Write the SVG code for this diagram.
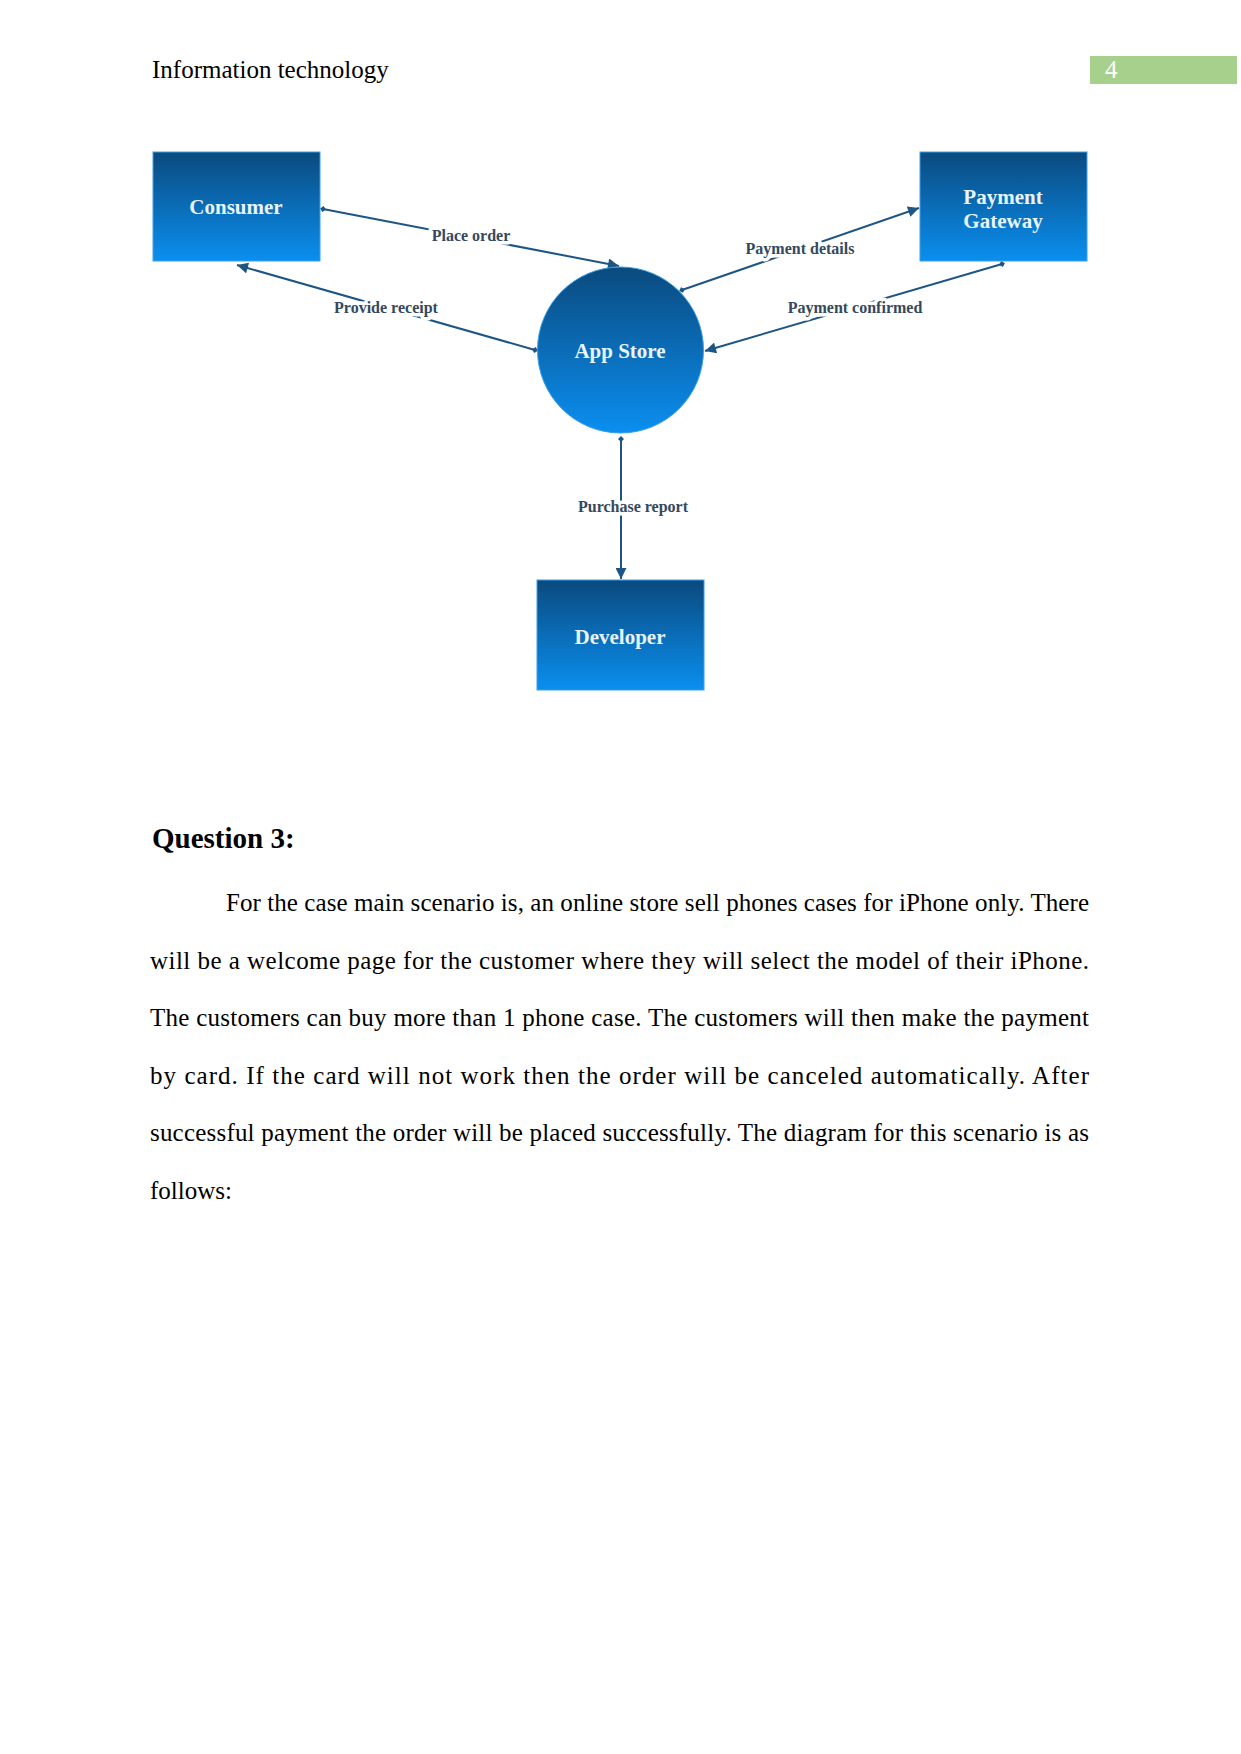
<svg xmlns="http://www.w3.org/2000/svg" width="1241" height="1754" viewBox="0 0 1241 1754">
<defs>
<linearGradient id="g" x1="0" y1="0" x2="0" y2="1">
<stop offset="0" stop-color="#0a4a7e"/>
<stop offset="1" stop-color="#0a8ff0"/>
</linearGradient>
<marker id="arr" viewBox="0 0 10 10" refX="10" refY="5" markerWidth="12" markerHeight="11" markerUnits="userSpaceOnUse" orient="auto">
<path d="M0,0 L10,5 L0,10 Z" fill="#1d5585"/>
</marker>
<marker id="dia" viewBox="0 0 8 8" refX="4" refY="4" markerWidth="6" markerHeight="6" markerUnits="userSpaceOnUse" orient="auto">
<path d="M0,4 L4,0 L8,4 L4,8 Z" fill="#1d5585"/>
</marker>
</defs>
<style>
.box{fill:url(#g);stroke:#3aa0e8;stroke-width:1}
.nt{font-family:"Liberation Serif",serif;font-weight:bold;font-size:21px;fill:#e8f4fc;text-anchor:middle}
.ln{stroke:#1d5585;stroke-width:2;fill:none;marker-end:url(#arr);marker-start:url(#dia)}
.lb{font-family:"Liberation Serif",serif;font-weight:bold;font-size:16px;fill:#34495e;text-anchor:middle;stroke:#fff;stroke-width:7;paint-order:stroke;stroke-linejoin:round}
.body{font-family:"Liberation Serif",serif;font-size:25px;fill:#000}
</style>
<rect width="1241" height="1754" fill="#fff"/>
<g id="header">
<text class="body" x="152" y="78">Information technology</text>
<rect x="1090" y="56" width="147" height="28" fill="#a8d08d"/>
<text x="1105" y="78" font-family="Liberation Serif, serif" font-size="25" fill="#ffffff">4</text>
</g>
<g id="connectors">
<line class="ln" x1="323" y1="209" x2="619" y2="266"/>
<text class="lb" x="471" y="241">Place order</text>
<line class="ln" x1="535" y1="350" x2="237" y2="265"/>
<text class="lb" x="386" y="313">Provide receipt</text>
<line class="ln" x1="682" y1="290" x2="919" y2="208"/>
<text class="lb" x="800" y="254">Payment details</text>
<line class="ln" x1="1002" y1="264" x2="705" y2="351"/>
<text class="lb" x="855" y="313">Payment confirmed</text>
<line class="ln" x1="621" y1="439" x2="621" y2="579"/>
<text class="lb" x="633" y="512">Purchase report</text>
</g>
<g id="consumer">
<rect class="box" x="153" y="152" width="167" height="109"/>
<text class="nt" x="236" y="214">Consumer</text>
</g>
<g id="payment-gateway">
<rect class="box" x="920" y="152" width="167" height="109"/>
<text class="nt" x="1003" y="204">Payment</text>
<text class="nt" x="1003" y="228">Gateway</text>
</g>
<g id="app-store">
<circle cx="620.5" cy="350" r="83" fill="url(#g)" stroke="#3aa0e8" stroke-width="1"/>
<text class="nt" x="620" y="358">App Store</text>
</g>
<g id="developer">
<rect class="box" x="537" y="580" width="167" height="110"/>
<text class="nt" x="620" y="644">Developer</text>
</g>
<g id="text">
<text x="152" y="848" font-family="Liberation Serif, serif" font-size="29" font-weight="bold">Question 3:</text>
<text class="body" x="226" y="911" textLength="863" lengthAdjust="spacing">For the case main scenario is, an online store sell phones cases for iPhone only. There</text>
<text class="body" x="150" y="968.5" textLength="939" lengthAdjust="spacing">will be a welcome page for the customer where they will select the model of their iPhone.</text>
<text class="body" x="150" y="1026" textLength="939" lengthAdjust="spacing">The customers can buy more than 1 phone case. The customers will then make the payment</text>
<text class="body" x="150" y="1083.5" textLength="939" lengthAdjust="spacing">by card. If the card will not work then the order will be canceled automatically. After</text>
<text class="body" x="150" y="1141" textLength="939" lengthAdjust="spacing">successful payment the order will be placed successfully. The diagram for this scenario is as</text>
<text class="body" x="150" y="1198.5">follows:</text>
</g>
</svg>
